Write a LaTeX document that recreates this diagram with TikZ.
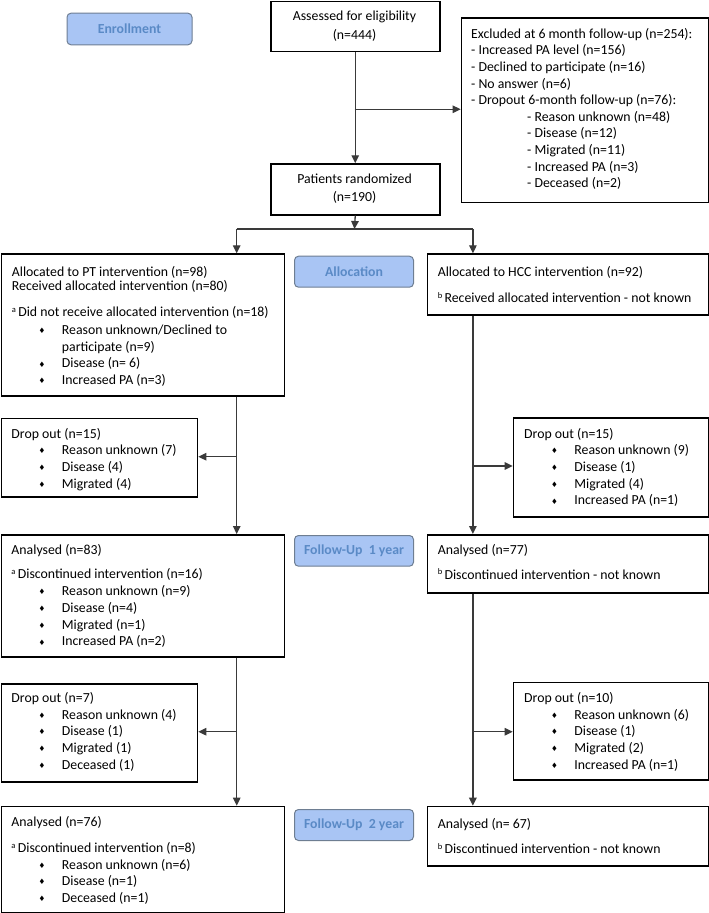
\documentclass[tikz,border=0pt]{standalone}
\usepackage{fontspec}
\setmainfont{Carlito}
\newfontfamily\symfont{DejaVu Sans}
\usetikzlibrary{arrows.meta}
\definecolor{labfill}{HTML}{A9C5F4}
\definecolor{labborder}{HTML}{6E7E92}
\definecolor{labtext}{HTML}{5A8AC6}
\definecolor{connc}{HTML}{3A3A3A}
\newcommand\mybox[5]{\node[box, anchor=north west, minimum width=#4pt, minimum height=#5pt] (#1) at (#2,#3) {};}
\newcommand\mylab[6]{\node[lab, anchor=north west, minimum width=#4pt, minimum height=#5pt] (#1) at (#2,#3) {#6};}
\newcommand\bul{\makebox[23.2pt][l]{\raisebox{0.8pt}{\symfont\fontsize{7.5}{7.5}\selectfont ♦}}}
\newcommand\sps[1]{{\fontsize{8.5}{8.5}\selectfont\raisebox{4.2pt}{#1}}\,}
\begin{document}
\begin{tikzpicture}[x=1pt,y=-1pt,
  box/.style={draw=black,line width=1.5pt,inner sep=0pt},
  lab/.style={draw=labborder, fill=labfill, line width=1pt, rounded corners=4pt, inner sep=0pt, font=\fontsize{13.8}{16.7}\selectfont\bfseries, text=labtext},
  txt/.style={inner sep=0pt, anchor=base west, font=\fontsize{13.8}{16.7}\selectfont},
  ctxt/.style={inner sep=0pt, anchor=base, font=\fontsize{13.8}{16.7}\selectfont},
  conn/.style={draw=connc, line width=1.3pt},
  arr/.style={conn, -{Triangle[length=8pt,width=7.5pt]}}]
\useasboundingbox (0,0) rectangle (709,913);

% labels
\mylab{enroll}{66.5}{12.7}{125}{31.6}{Enrollment}
\mylab{alloc}{294}{255.7}{119}{31}{Allocation}
\mylab{fuA}{294}{535}{119}{30.7}{Follow-Up\ \ 1 year}
\mylab{fuB}{294}{809}{119}{31}{Follow-Up\ \ 2 year}

% boxes
\mybox{assess}{270}{0.8}{169}{50}
\mybox{excl}{460.7}{17.3}{247}{184.4}
\mybox{rand}{270}{163.3}{169}{50.7}
\mybox{pt}{0.8}{253.3}{283}{141.7}
\mybox{hcc}{426.7}{253.3}{281}{60.7}
\mybox{dlA}{0.8}{417.7}{196}{78.3}
\mybox{drA}{512.7}{417.3}{195}{98.7}
\mybox{alA}{0.8}{534}{283}{122}
\mybox{arA}{426.7}{534}{281}{58.3}
\mybox{dlB}{0.8}{683.3}{196}{97.7}
\mybox{drB}{512.7}{681.7}{195}{97.6}
\mybox{alB}{0.8}{805.7}{283}{106.5}
\mybox{arB}{426.7}{805.7}{281}{59.3}

% texts: assessed / randomized
\node[ctxt] (as1) at (354.5,20.5) {Assessed for eligibility};
\node[ctxt] (as2) at (354.5,39.5) {(n=444)};
\node[ctxt] (ra1) at (354.5,183.5) {Patients randomized};
\node[ctxt] (ra2) at (354.5,201) {(n=190)};

% excluded
\node[txt] (ex1) at (471,38.3) {Excluded at 6 month follow-up (n=254):};
\node[txt] (ex2) at (471,54.9) {- Increased PA level (n=156)};
\node[txt] (ex3) at (471,71.5) {- Declined to participate (n=16)};
\node[txt] (ex4) at (471,88.1) {- No answer (n=6)};
\node[txt] (ex5) at (471,104.7) {- Dropout 6-month follow-up (n=76):};
\node[txt] (ex6) at (527,121.3) {- Reason unknown (n=48)};
\node[txt] (ex7) at (527,137.9) {- Disease (n=12)};
\node[txt] (ex8) at (527,154.5) {- Migrated (n=11)};
\node[txt] (ex9) at (527,171.1) {- Increased PA (n=3)};
\node[txt] (ex10) at (527,187.7) {- Deceased (n=2)};

% PT allocation
\node[txt] (pt1) at (11.7,276) {Allocated to PT intervention (n=98)};
\node[txt] (pt2) at (11.7,290.7) {Received allocated intervention (n=80)};
\node[txt] (pt3) at (11.7,316.7) {\sps{a}Did not receive allocated intervention (n=18)};
\node[txt] (pt4) at (38.5,334.5) {\bul Reason unknown/Declined to};
\node[txt] (pt5) at (61.7,351.2) {participate (n=9)};
\node[txt] (pt6) at (38.5,367.9) {\bul Disease (n= 6)};
\node[txt] (pt7) at (38.5,384.6) {\bul Increased PA (n=3)};

% HCC allocation
\node[txt] (hc1) at (437.6,276) {Allocated to HCC intervention (n=92)};
\node[txt] (hc2) at (437.6,302.5) {\sps{b}Received allocated intervention - not known};

% dropouts 1
\node[txt] (dl1) at (11.3,438) {Drop out (n=15)};
\node[txt] (dl2) at (38.5,454.7) {\bul Reason unknown (7)};
\node[txt] (dl3) at (38.5,471.4) {\bul Disease (4)};
\node[txt] (dl4) at (38.5,488.1) {\bul Migrated (4)};
\node[txt] (dr1) at (524,438) {Drop out (n=15)};
\node[txt] (dr2) at (551,454.7) {\bul Reason unknown (9)};
\node[txt] (dr3) at (551,471.4) {\bul Disease (1)};
\node[txt] (dr4) at (551,488.1) {\bul Migrated (4)};
\node[txt] (dr5) at (551,504.8) {\bul Increased PA (n=1)};

% analysed 1
\node[txt] (al1) at (11.3,554) {Analysed (n=83)};
\node[txt] (al2) at (11.3,578.5) {\sps{a}Discontinued intervention (n=16)};
\node[txt] (al3) at (38.5,595.7) {\bul Reason unknown (n=9)};
\node[txt] (al4) at (38.5,612.4) {\bul Disease (n=4)};
\node[txt] (al5) at (38.5,629.1) {\bul Migrated (n=1)};
\node[txt] (al6) at (38.5,645.8) {\bul Increased PA (n=2)};
\node[txt] (ar1) at (437.6,554) {Analysed (n=77)};
\node[txt] (ar2) at (437.6,579) {\sps{b}Discontinued intervention - not known};

% dropouts 2
\node[txt] (dm1) at (11.3,702.3) {Drop out (n=7)};
\node[txt] (dm2) at (38.5,719) {\bul Reason unknown (4)};
\node[txt] (dm3) at (38.5,735.7) {\bul Disease (1)};
\node[txt] (dm4) at (38.5,752.4) {\bul Migrated (1)};
\node[txt] (dm5) at (38.5,769.1) {\bul Deceased (1)};
\node[txt] (dn1) at (524,702.3) {Drop out (n=10)};
\node[txt] (dn2) at (551,719) {\bul Reason unknown (6)};
\node[txt] (dn3) at (551,735.7) {\bul Disease (1)};
\node[txt] (dn4) at (551,752.4) {\bul Migrated (2)};
\node[txt] (dn5) at (551,769.1) {\bul Increased PA (n=1)};

% analysed 2
\node[txt] (ak1) at (11.3,826.7) {Analysed (n=76)};
\node[txt] (ak2) at (11.3,852.3) {\sps{a}Discontinued intervention (n=8)};
\node[txt] (ak3) at (38.5,869) {\bul Reason unknown (n=6)};
\node[txt] (ak4) at (38.5,885.7) {\bul Disease (n=1)};
\node[txt] (ak5) at (38.5,902.4) {\bul Deceased (n=1)};
\node[txt] (aq1) at (437.6,828) {Analysed (n= 67)};
\node[txt] (aq2) at (437.6,853.3) {\sps{b}Discontinued intervention - not known};

% connectors
\coordinate (bx) at (354.5,109.3);
\draw[arr] (assess.south) -- (rand.north);
\draw[arr] (bx) -- (bx -| excl.west);
\coordinate (split) at (354.5,229);
\coordinate (sl) at (236.7,229);
\coordinate (sr) at (472.9,229);
\draw[arr] (rand.south) -- (split);
\draw[conn] (sl) -- (sr);
\draw[arr] (sl) -- (sl |- pt.north);
\draw[arr] (sr) -- (sr |- hcc.north);
% left column
\draw[arr] (sl |- pt.south) -- (sl |- alA.north);
\coordinate (lA) at (236.7,456.7);
\draw[arr] (lA) -- (lA -| dlA.east);
\draw[arr] (sl |- alA.south) -- (sl |- alB.north);
\coordinate (lB) at (236.7,731.7);
\draw[arr] (lB) -- (lB -| dlB.east);
% right column
\draw[arr] (sr |- hcc.south) -- (sr |- arA.north);
\coordinate (rA) at (472.9,466);
\draw[arr] (rA) -- (rA -| drA.west);
\draw[arr] (sr |- arA.south) -- (sr |- arB.north);
\coordinate (rB) at (472.9,731.7);
\draw[arr] (rB) -- (rB -| drB.west);
\end{tikzpicture}
\end{document}
